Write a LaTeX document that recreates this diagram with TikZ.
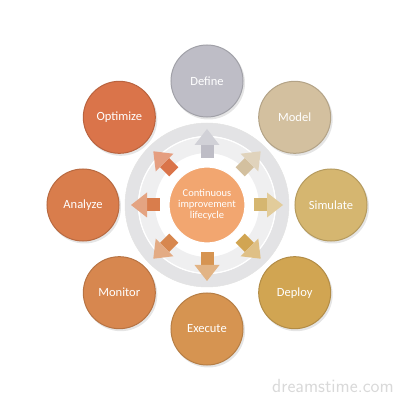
\documentclass[tikz,border=0pt]{standalone}
\usepackage{fontspec}
\setmainfont{Carlito}
\usetikzlibrary{calc}
\begin{document}
\begin{tikzpicture}[x=1pt,y=1pt]
\useasboundingbox (0,0) rectangle (400,400);
\definecolor{cDefine}{HTML}{BEBDC6}
\definecolor{cModel}{HTML}{D3C09F}
\definecolor{cSim}{HTML}{D5B670}
\definecolor{cDeploy}{HTML}{D1A552}
\definecolor{cExec}{HTML}{D69451}
\definecolor{cMon}{HTML}{D7874F}
\definecolor{cAna}{HTML}{D97D4C}
\definecolor{cOpt}{HTML}{DA744A}
\definecolor{cCenter}{HTML}{F2A670}
\definecolor{ringout}{HTML}{E3E3E5}
\definecolor{ringin}{HTML}{EFEFF0}
\tikzset{
  stage/.style={circle, minimum size=72pt, inner sep=0pt, fill=#1, draw=#1!85!black, line width=1pt,
    text=white, font=\fontsize{12.5}{14}\selectfont},
  centre/.style={circle, minimum size=76pt, inner sep=0pt, fill=cCenter, draw=white, line width=1.2pt,
    text=white, font=\fontsize{10.5}{11}\selectfont, align=center},
  arrowstem/.style={fill=#1, draw=none},
  arrowhead/.style={fill=#1!70!white, draw=none},
  shadowc/.style={fill=black!10}
}
\coordinate (C) at (207,195);
% grey ring
\fill[ringout, even odd rule] (C) circle (82) (C) circle (69);
\fill[ringin, even odd rule] (C) circle (68) (C) circle (52);
\draw[white, line width=1.2pt] (C) circle (68.5);
\draw[gray!22, line width=0.5pt] (C) circle (82);
% arrows
\foreach \a/\c in {90/cDefine,45/cModel,0/cSim,-45/cDeploy,-90/cExec,-135/cMon,180/cAna,135/cOpt}{
  \begin{scope}[shift={(C)}, rotate=\a]
    \fill[arrowstem=\c] (47,-6.5) rectangle (60,6.5);
    \fill[arrowhead=\c] (60,-12.5) -- (76,0) -- (60,12.5) -- cycle;
  \end{scope}
}
\node[centre] (center) at (C) {Continuous\\improvement\\lifecycle};
% outer stages
\foreach \a/\c/\n/\t in {90/cDefine/define/Define,45/cModel/model/Model,0/cSim/simulate/Simulate,
  -45/cDeploy/deploy/Deploy,-90/cExec/execute/Execute,-135/cMon/monitor/Monitor,
  180/cAna/analyze/Analyze,135/cOpt/optimize/Optimize}{
  \fill[shadowc] ($(C)+(\a:124)+(1.5,-2)$) circle (36.5);
  \node[stage=\c] (\n) at ($(C)+(\a:124)$) {\t};
}
\node[text=black!15, font=\fontsize{19}{19}\selectfont\sffamily, anchor=east, inner sep=0pt] (wm) at (394,14) {dreamstime.com};
\end{tikzpicture}
\end{document}
